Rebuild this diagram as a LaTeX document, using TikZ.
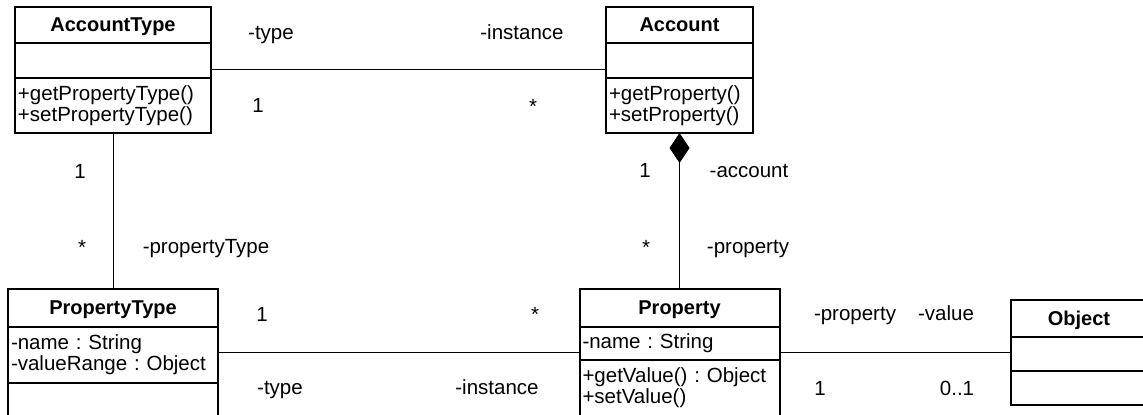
\documentclass[tikz,border=0pt]{standalone}
\usepackage{fontspec}
\setmainfont{Liberation Sans}
\usetikzlibrary{positioning, arrows.meta}
\frenchspacing
\tikzstyle{frame} = [rectangle, draw=black, line width=1pt, inner sep=0pt, outer sep=0pt]
\tikzstyle{cname} = [rectangle, draw=black, line width=1pt, inner sep=0pt, outer sep=0pt, font=\bfseries, text depth=0pt, anchor=north]
\tikzstyle{members} = [rectangle, draw=black, line width=1pt, inner xsep=1.5pt, inner ysep=0pt, outer sep=0pt, align=left]
\tikzstyle{assoc} = [line width=0.5pt]
\tikzstyle{role} = [inner sep=0pt, anchor=base]

\begin{document}
\begin{tikzpicture}[x=0.5pt, y=-0.5pt, every node/.style={font=\fontsize{10.25}{10.5}\selectfont}]
			\useasboundingbox (0,0) rectangle (1143,415);
			\clip (0,0) rectangle (1143,415);
			% classes
			\node(accounttype)[frame, minimum width=98pt, minimum height=63pt] at (113,70) {};
			\node(accounttype-name)[cname, minimum width=98pt, minimum height=18pt] at (accounttype.north) {\bfseries AccountType};
			\node(accounttype-attr)[members, text width=95pt, minimum height=17.5pt, below=0pt of accounttype-name] {};
			\node(accounttype-ops)[members, text width=95pt, minimum height=27.5pt, below=0pt of accounttype-attr] {+getPropertyType()\\+setPropertyType()};

			\node(account)[frame, minimum width=73.5pt, minimum height=63pt] at (679.5,70) {};
			\node(account-name)[cname, minimum width=73.5pt, minimum height=18pt] at (account.north) {\bfseries Account};
			\node(account-attr)[members, text width=70.5pt, minimum height=17.5pt, below=0pt of account-name] {};
			\node(account-ops)[members, text width=70.5pt, minimum height=27.5pt, below=0pt of account-attr] {+getProperty()\\+setProperty()};

			\node(propertytype)[frame, minimum width=105pt, minimum height=63.5pt] at (113,352.5) {};
			\node(propertytype-name)[cname, minimum width=105pt, minimum height=19pt] at (propertytype.north) {\bfseries PropertyType};
			\node(propertytype-attr)[members, text width=102pt, minimum height=28pt, below=0pt of propertytype-name] {-name : String\\-valueRange : Object};
			\node(propertytype-ops)[members, text width=102pt, minimum height=16.5pt, below=0pt of propertytype-attr] {};

			\node(property)[frame, minimum width=100pt, minimum height=63.5pt] at (679.5,352.5) {};
			\node(property-name)[cname, minimum width=100pt, minimum height=19pt] at (property.north) {\bfseries Property};
			\node(property-attr)[members, text width=97pt, minimum height=16.5pt, below=0pt of property-name] {-name : String};
			\node(property-ops)[members, text width=97pt, minimum height=28pt, below=0pt of property-attr] {+getValue() : Object\\+setValue()};

			\node(object)[frame, minimum width=68pt, minimum height=52.5pt] at (1079,352.5) {};
			\node(object-name)[cname, minimum width=68pt, minimum height=18.5pt] at (object.north) {\bfseries Object};
			\node(object-attr)[members, text width=65pt, minimum height=17pt, below=0pt of object-name] {};
			\node(object-ops)[members, text width=65pt, minimum height=17pt, below=0pt of object-attr] {};

			% associations
			\draw [assoc] (accounttype) -- (account);
			\draw [assoc] (accounttype) -- (propertytype);
			\draw [assoc, -{Diamond[length=15pt, width=10pt]}] (property) -- (account);
			\draw [assoc] (propertytype) -- (property);
			\draw [assoc] (property) -- (object);

			% Labels
			\node(atRole)[role] at (271,40) {-type};
			\node(acRole)[role] at (522,40) {-instance};
			\node(atMult)[role] at (258,113) {1};
			\node(acMult)[role] at (533,114) {*};
			\node(atMult2)[role] at (80,179) {1};
			\node(ptMult)[role] at (82,255) {*};
			\node(ptRole)[role] at (206,254) {-propertyType};
			\node(acMult2)[role] at (645,178) {1};
			\node(acRole2)[role] at (749,178) {-account};
			\node(prMult)[role] at (646,255) {*};
			\node(prRole)[role] at (748,254) {-property};
			\node(ptMult2)[role] at (262,322) {1};
			\node(prMult2)[role] at (535,322) {*};
			\node(ptRole2)[role] at (280,395) {-type};
			\node(prRole2)[role] at (497,395) {-instance};
			\node(prRole3)[role] at (855,321) {-property};
			\node(obRole)[role] at (946,321) {-value};
			\node(prMult3)[role] at (820,396) {1};
			\node(obMult)[role] at (957,396) {0..1};
		\end{tikzpicture}
\end{document}
